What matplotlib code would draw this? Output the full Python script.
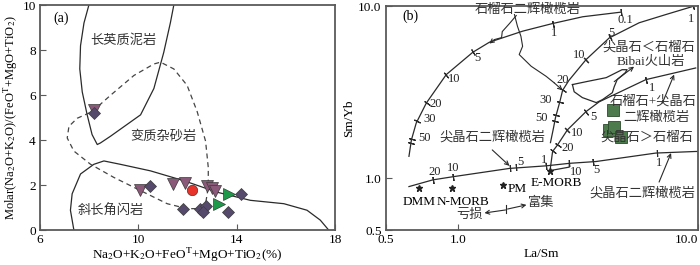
import numpy as np
import matplotlib
matplotlib.use("Agg")
import matplotlib.pyplot as plt
from matplotlib.ticker import NullLocator

plt.rcParams['font.family'] = ['Liberation Serif', 'Noto Sans CJK SC']
plt.rcParams['mathtext.fontset'] = 'stix'
plt.rcParams['font.size'] = 9

# ---------------- panel (a) data ----------------
pelite_x = [7.99, 7.79, 7.65, 7.62, 7.72, 7.92, 8.12, 8.33, 8.46, 8.87, 10.09, 10.63, 11.03, 11.30, 11.44]
pelite_y = [10, 9.2, 8.19, 7.16, 6.14, 5.12, 4.24, 3.80, 3.87, 4.17, 5.12, 6.29, 7.89, 9.21, 10]

amph_x = [7.38, 7.24, 7.31, 7.65, 8.19, 8.60, 9.27, 10.49, 11.85, 13.20, 14.55, 15.91, 16.85, 17.39, 17.73]
amph_y = [0, 0.88, 1.61, 2.49, 2.92, 3.07, 2.92, 2.63, 2.19, 1.68, 1.32, 1.17, 0.88, 0.44, 0]

grey_x = [8.12, 8.87, 9.82, 10.63, 10.90, 11.44, 11.98, 12.39, 12.73, 12.84, 12.84, 12.73, 12.39, 11.98,
          11.17, 10.09, 9.00, 8.06, 7.38, 7.11, 7.18, 7.52, 8.12]
grey_y = [5.26, 5.99, 6.87, 7.38, 7.46, 7.16, 6.43, 5.26, 3.95, 2.78, 1.90, 1.17, 0.95, 0.95,
          1.17, 1.75, 2.34, 2.92, 3.51, 4.09, 4.61, 4.97, 5.26]

diam_x = [8.19, 10.49, 11.80, 12.52, 12.73, 12.62, 13.66, 14.15]
diam_y = [5.22, 1.97, 0.95, 0.95, 1.05, 0.82, 0.82, 1.60]
tri_x = [8.19, 10.06, 11.40, 11.91, 12.80, 13.00, 13.13]
tri_y = [5.33, 1.78, 2.06, 2.11, 1.95, 1.86, 1.75]
circ_x = [12.19]
circ_y = [1.80]
green_x = [13.67, 13.27]
green_y = [1.62, 1.15]

# ---------------- panel (b) data ----------------
gl_x = [0.625, 0.64, 0.67, 0.738, 0.894, 1.153, 1.353, 1.86, 2.48, 3.31, 4.77]
gl_y = [1.34, 1.67, 2.09, 2.73, 4.0, 5.39, 6.17, 7.15, 7.92, 8.67, 9.22]
gl_tx = [0.637, 0.642, 0.673, 0.74, 0.894, 1.153, 2.48, 4.77]
gl_ty = [1.60, 1.70, 2.16, 2.75, 4.0, 5.39, 7.92, 9.22]
gl_lab = ["50", "30", "20", "10", "5", "1", "0.1"]
gl_lx = [0.727, 0.762, 0.807, 0.968, 1.21, 2.52, 5.01]
gl_ly = [1.71, 2.21, 2.71, 3.79, 5.0, 6.99, 8.28]

sg_x = [2.43, 2.50, 2.55, 2.66, 2.73, 2.90, 3.42, 4.27, 5.69, 7.35, 9.63]
sg_y = [1.61, 1.95, 2.25, 2.79, 3.24, 3.70, 4.89, 6.53, 8.0, 8.93, 10.0]
sg_tx = [2.53, 2.57, 2.66, 2.73, 3.42, 4.30, 9.55]
sg_ty = [2.14, 2.34, 2.79, 3.24, 4.89, 6.60, 9.95]
sg_lab = ["50", "30", "20", "10", "5", "1"]
sg_lx = [2.24, 2.33, 2.73, 3.20, 4.34, 9.34]
sg_ly = [2.24, 2.86, 3.74, 5.23, 7.02, 8.36]

gs_x = [2.42, 2.48, 2.60, 2.86, 3.42, 3.88, 6.07, 9.79]
gs_y = [1.107, 1.43, 1.56, 1.91, 2.44, 2.78, 3.74, 4.37]
gs_tx = [2.48, 2.60, 2.86, 3.42, 6.07]
gs_ty = [1.43, 1.56, 1.91, 2.44, 3.74]
gs_lab = ["20", "10", "5", "1"]
gs_lx = [2.86, 3.14, 3.66, 6.43]
gs_ly = [1.50, 1.84, 2.28, 3.36]

sp_x = [0.625, 0.786, 0.953, 1.64, 2.33, 2.91, 3.76, 6.68, 9.79, 10.0]
sp_y = [0.894, 0.978, 1.02, 1.14, 1.18, 1.22, 1.25, 1.40, 1.43, 1.43]
sp_tx = [0.786, 0.953, 1.655, 1.75, 2.33, 2.91, 3.66, 6.74]
sp_ty = [0.978, 1.02, 1.14, 1.16, 1.18, 1.22, 1.25, 1.41]
sp_lab = ["20", "10", "5", "1", "10", "5", "1"]
sp_lx = [0.80, 0.953, 1.82, 2.29, 3.10, 3.78, 6.89]
sp_ly = [1.09, 1.14, 1.24, 1.28, 1.08, 1.11, 1.22]

mix_x = [2.42, 2.91, 2.91]
mix_y = [1.107, 1.16, 1.22]

bibai_x = [3.0, 3.43, 4.15, 4.83, 5.07, 4.98, 4.61, 4.48, 4.40, 4.0, 3.77, 3.30, 3.05, 3.0]
bibai_y = [3.50, 3.64, 3.84, 4.27, 4.27, 4.10, 3.74, 3.40, 3.14, 2.86, 2.75, 2.94, 3.18, 3.50]

sq_x = [4.41, 4.27, 4.48, 4.77]
sq_y = [2.50, 1.91, 1.99, 1.73]

res_names = ["DMM", "N-MORB", "PM", "E-MORB"]
res_x = [0.688, 0.947, 1.54, 2.42]
res_y = [0.875, 0.875, 0.914, 1.107]
res_lx = [0.692, 1.048, 1.77, 2.56]
res_ly = [0.731, 0.731, 0.863, 0.936]

lead1_x = [1.75, 1.64, 1.53, 1.52, 1.42, 1.35]
lead1_y = [8.81, 7.92, 7.11, 6.56, 6.39, 6.06]
lead2_x = [1.72, 1.77, 1.83, 1.86, 1.80, 2.02, 2.33, 2.52, 2.73]
lead2_y = [8.93, 7.64, 6.68, 5.84, 5.23, 4.47, 3.91, 3.58, 3.24]

line_c = '#2a2a2a'
frame_c = '#5a5a5a'

fig = plt.figure(figsize=(7, 2.65), dpi=100)
ax1 = fig.add_axes([0.057, 0.132, 0.422, 0.849])
ax2 = fig.add_axes([0.551, 0.132, 0.446, 0.845])

for ax in (ax1, ax2):
    for s in ax.spines.values():
        s.set_color(frame_c)
        s.set_linewidth(1.3)
    ax.tick_params(direction='in', length=4, width=0.8, color=frame_c, labelsize=9.5, pad=3)

# ---------------- (a) ----------------
ax1.plot(pelite_x, pelite_y, color=line_c, lw=0.9)
ax1.plot(amph_x, amph_y, color=line_c, lw=0.9)
ax1.plot(grey_x, grey_y, color='#444444', lw=0.9, ls=(0, (4, 3)))
mk = dict(ls='none', mec='#3a3a3a', mew=0.5)
ax1.plot(tri_x, tri_y, marker='v', ms=8.5, mfc='#8a5878', **mk)
ax1.plot(circ_x, circ_y, marker='o', ms=7.5, mfc='#e8332a', **mk)
ax1.plot(green_x, green_y, marker='>', ms=8.5, mfc='#1d9a49', **mk)
ax1.plot(diam_x, diam_y, marker='D', ms=6.5, mfc='#564a6c', **mk)

ax1.set_xlim(6, 18)
ax1.set_ylim(0, 10)
ax1.set_xticks([6, 10, 14, 18])
ax1.set_yticks([0, 2, 4, 6, 8, 10])
ax1.set_xlabel(r"Na$_2$O+K$_2$O+FeO$^{\rm T}$+MgO+TiO$_2$(%)", fontsize=9.5, labelpad=0)
ax1.set_ylabel(r"Molar(Na$_2$O+K$_2$O)/(FeO$^{\rm T}$+MgO+TiO$_2$)", fontsize=9, labelpad=2)
ax1.text(0.045, 0.94, "(a)", transform=ax1.transAxes, fontsize=10, ha='left', va='center')
ax1.text(9.39, 8.42, "长英质泥岩", fontsize=9.5, ha='center', va='center', color='#333333')
ax1.text(11.02, 4.17, "变质杂砂岩", fontsize=9.5, ha='center', va='center', color='#333333')
ax1.text(8.87, 0.85, "斜长角闪岩", fontsize=9.5, ha='center', va='center', color='#333333')

# ---------------- (b) ----------------
ax2.set_xscale('log')
ax2.set_yscale('log')
ax2.set_xlim(0.5, 10)
ax2.set_ylim(0.5, 10)
ax2.set_xticks([0.5, 1, 10])
ax2.set_xticklabels(["0.5", "1.0", "10.0"])
ax2.get_xticklabels()[-1].set_horizontalalignment('right')
ax2.set_yticks([0.5, 1, 10])
ax2.set_yticklabels(["0.5", "1.0", "10.0"])
ax2.xaxis.set_minor_locator(NullLocator())
ax2.yaxis.set_minor_locator(NullLocator())
ax2.set_xlabel("La/Sm", fontsize=9.5, labelpad=1)
ax2.set_ylabel("Sm/Yb", fontsize=9.5, labelpad=2)
ax2.text(0.055, 0.955, "(b)", transform=ax2.transAxes, fontsize=10, ha='left', va='center')


def curve_ticks(ax, cx, cy, tx, ty):
    pts = ax.transData.transform(np.column_stack([cx, cy]))
    for x, y in zip(tx, ty):
        p = ax.transData.transform((x, y))
        d = np.hypot(*(pts - p).T)
        i = min(int(np.argmin(d)), len(pts) - 2)
        dx, dy = pts[i + 1] - pts[i]
        ang = np.degrees(np.arctan2(dy, dx))
        ax.plot(x, y, marker=(2, 2, ang), ms=5, mew=0.8, color=line_c, ls='none')


curves = [
    (gl_x, gl_y, gl_tx, gl_ty, gl_lab, gl_lx, gl_ly),
    (sg_x, sg_y, sg_tx, sg_ty, sg_lab, sg_lx, sg_ly),
    (gs_x, gs_y, gs_tx, gs_ty, gs_lab, gs_lx, gs_ly),
    (sp_x, sp_y, sp_tx, sp_ty, sp_lab, sp_lx, sp_ly),
]
for cx, cy, tx, ty, lab, lx, ly in curves:
    ax2.plot(cx, cy, color=line_c, lw=0.9)
    curve_ticks(ax2, cx, cy, tx, ty)
    for t, x, y in zip(lab, lx, ly):
        ax2.text(x, y, t, fontsize=9, ha='center', va='center', color='#222222')

ax2.plot(mix_x, mix_y, color=line_c, lw=0.9)
ax2.plot(bibai_x, bibai_y, color=line_c, lw=0.9)
ax2.plot(sq_x, sq_y, ls='none', marker='s', ms=8, mfc='#4e7b4e', mec='#2c4a2c', mew=0.6)
ax2.plot(res_x, res_y, ls='none', marker='*', ms=5, color='#222222')
for n, x, y in zip(res_names, res_lx, res_ly):
    ax2.text(x, y, n, fontsize=9.5, ha='center', va='center')

arr = dict(arrowstyle='->', lw=0.8, color=line_c, shrinkA=0, shrinkB=0, mutation_scale=7)


def leader(ax, xs, ys):
    ax.plot(xs[:-1], ys[:-1], color=line_c, lw=0.8)
    ax.annotate('', xy=(xs[-1], ys[-1]), xytext=(xs[-2], ys[-2]), arrowprops=arr)


leader(ax2, lead1_x, lead1_y)
leader(ax2, lead2_x, lead2_y)
leader(ax2, [1.39, 1.64], [1.46, 1.18])
leader(ax2, [4.48, 5.42], [3.64, 4.45])
leader(ax2, [7.11, 7.96], [2.73, 4.0])
leader(ax2, [6.89, 7.73], [0.95, 1.40])
leader(ax2, [1.58, 1.29], [0.654, 0.628])
leader(ax2, [1.61, 1.93], [0.662, 0.70])
ax2.plot([1.58, 1.58], [0.625, 0.70], color=line_c, lw=0.8)

txt = dict(fontsize=9.5, ha='center', va='center', color='#333333')
ax2.text(1.95, 9.45, "石榴石二辉橄榄岩", **txt)
ax2.text(1.39, 1.72, "尖晶石二辉橄榄岩", **txt)
ax2.text(6.26, 5.74, "尖晶石＜石榴石", **txt)
ax2.text(6.38, 4.76, "Bibai火山岩", **txt)
ax2.text(6.5, 2.78, "石榴石+尖晶石", **txt)
ax2.text(6.70, 2.24, "二辉橄榄岩", **txt)
ax2.text(6.14, 1.72, "尖晶石＞石榴石", **txt)
ax2.text(5.86, 0.82, "尖晶石二辉橄榄岩", **txt)
ax2.text(1.12, 0.61, "亏损", **txt)
ax2.text(2.22, 0.715, "富集", **txt)

fig.savefig("out.png", dpi=100)
